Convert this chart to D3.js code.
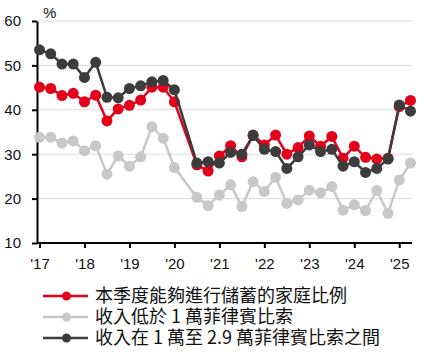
<!doctype html>
<html lang="zh-Hant">
<head>
<meta charset="UTF-8">
<title>Savings</title>
<style>
  body { margin: 0; background: #fff; }
  .axis text { font-family: "Liberation Sans", Arial, sans-serif; font-size: 15px; fill: #111; }
  .axis path, .axis line { stroke: #000; stroke-width: 2px; }
  .grid line { stroke: #dcdcdc; stroke-width: 1px; }
  .legend text { font-family: "Noto Sans CJK TC", "Noto Sans CJK SC", sans-serif; font-size: 18px; fill: #111; }
</style>
</head>
<body>
<svg width="424" height="354"></svg>
<script src="https://cdn.jsdelivr.net/npm/d3@7/dist/d3.min.js"></script>
<script>
var quarters = ['17Q1','17Q2','17Q3','17Q4','18Q1','18Q2','18Q3','18Q4',
                '19Q1','19Q2','19Q3','19Q4','20Q1','20Q2','20Q3','20Q4',
                '21Q1','21Q2','21Q3','21Q4','22Q1','22Q2','22Q3','22Q4',
                '23Q1','23Q2','23Q3','23Q4','24Q1','24Q2','24Q3','24Q4',
                '25Q1','25Q2'];
var tickQuarters = ['17Q1','18Q1','19Q1','20Q1','21Q1','22Q1','23Q1','24Q1','25Q1'];
var yTicks = [10, 20, 30, 40, 50, 60];

// 2020Q2 survey not held -> null
var savers = [45.1, 44.8, 43.2, 43.7, 41.8, 43.3, 37.5, 40.2,
              41.0, 42.2, 45.1, 45.1, 41.8, null, 27.6, 26.2,
              29.6, 31.9, 29.4, 34.3, 32.1, 34.3, 30.0, 31.5,
              34.1, 31.8, 34.0, 29.1, 31.8, 29.3, 28.9, 29.1,
              40.7, 42.1];
var lowIncome = [33.8, 33.8, 32.5, 33.0, 30.8, 31.9, 25.5, 29.6,
                 27.3, 29.4, 36.2, 33.6, 27.0, null, 20.3, 18.4,
                 20.8, 23.1, 18.2, 23.8, 21.6, 24.8, 18.9, 19.7,
                 21.9, 21.3, 22.7, 17.4, 18.6, 17.3, 21.8, 16.7,
                 24.2, 28.0];
var midIncome = [53.5, 52.6, 50.3, 50.3, 47.3, 50.7, 42.8, 42.7,
                 44.8, 45.4, 46.3, 46.6, 44.5, null, 28.0, 28.3,
                 28.0, 30.4, 30.0, 34.2, 31.1, 30.6, 26.8, 29.4,
                 32.1, 30.6, 31.1, 27.3, 28.3, 25.9, 26.8, 28.9,
                 41.1, 39.7];

var seriesNames = ['本季度能夠進行儲蓄的家庭比例', '收入低於 1 萬菲律賓比索', '收入在 1 萬至 2.9 萬菲律賓比索之間'];
var seriesColors = ['#e2001a', '#c8c8c8', '#3c3c3c'];

var svg = d3.select('svg');
var plotLeft = 37, plotRight = 412, plotTop = 21, plotBottom = 243;

var x = d3.scalePoint().domain(quarters).range([39.5, 410.5]);
var y = d3.scaleLinear().domain([10, 60]).range([plotBottom, plotTop]);

svg.append('g')
    .attr('class', 'grid')
    .selectAll('line')
    .data(yTicks.slice(1))
    .enter().append('line')
    .attr('x1', plotLeft).attr('x2', plotRight)
    .attr('y1', function(d) { return y(d); })
    .attr('y2', function(d) { return y(d); });

svg.append('g')
    .attr('class', 'axis axis--y')
    .attr('transform', 'translate(' + plotLeft + ',0)')
    .call(d3.axisLeft(y).tickValues(yTicks).tickSize(5).tickSizeOuter(0).tickPadding(11));

svg.append('g')
    .attr('class', 'axis axis--x')
    .attr('transform', 'translate(0,' + plotBottom + ')')
    .call(d3.axisBottom(x).tickValues(tickQuarters).tickSize(5).tickSizeOuter(0).tickPadding(10)
        .tickFormat(function(d) { return "'" + d.slice(0, 2); }));

// stretch x domain line over the full plot width
svg.select('.axis--x .domain').attr('d', 'M' + plotLeft + ',0H' + plotRight);

svg.append('text')
    .attr('x', 43).attr('y', 18)
    .attr('font-family', '"Liberation Sans", Arial, sans-serif')
    .attr('font-size', '15px')
    .attr('fill', '#111')
    .text('%');

var line = d3.line()
    .x(function(d) { return x(d.q); })
    .y(function(d) { return y(d.v); });

function drawSeries(values, color) {
    var data = values.map(function(v, i) { return { q: quarters[i], v: v }; })
        .filter(function(d) { return d.v !== null; });
    var g = svg.append('g');
    g.append('path')
        .datum(data)
        .attr('fill', 'none')
        .attr('stroke', color)
        .attr('stroke-width', 2.5)
        .attr('d', line);
    g.selectAll('circle')
        .data(data)
        .enter().append('circle')
        .attr('cx', function(d) { return x(d.q); })
        .attr('cy', function(d) { return y(d.v); })
        .attr('r', 5.5)
        .attr('fill', color);
}

drawSeries(lowIncome, seriesColors[1]);
drawSeries(savers, seriesColors[0]);
drawSeries(midIncome, seriesColors[2]);

var legend = svg.append('g').attr('class', 'legend');
var rows = legend.selectAll('g')
    .data(seriesNames)
    .enter().append('g')
    .attr('transform', function(d, i) { return 'translate(0,' + (296 + i * 21) + ')'; });
rows.append('line')
    .attr('x1', 43).attr('x2', 88)
    .attr('y1', 0).attr('y2', 0)
    .attr('stroke', function(d, i) { return seriesColors[i]; })
    .attr('stroke-width', 2.5);
rows.append('circle')
    .attr('cx', 66.5).attr('cy', 0).attr('r', 4.5)
    .attr('fill', function(d, i) { return seriesColors[i]; });
rows.append('text')
    .attr('x', 95).attr('y', 0)
    .attr('dy', '0.36em')
    .text(function(d) { return d; });
</script>
</body>
</html>
